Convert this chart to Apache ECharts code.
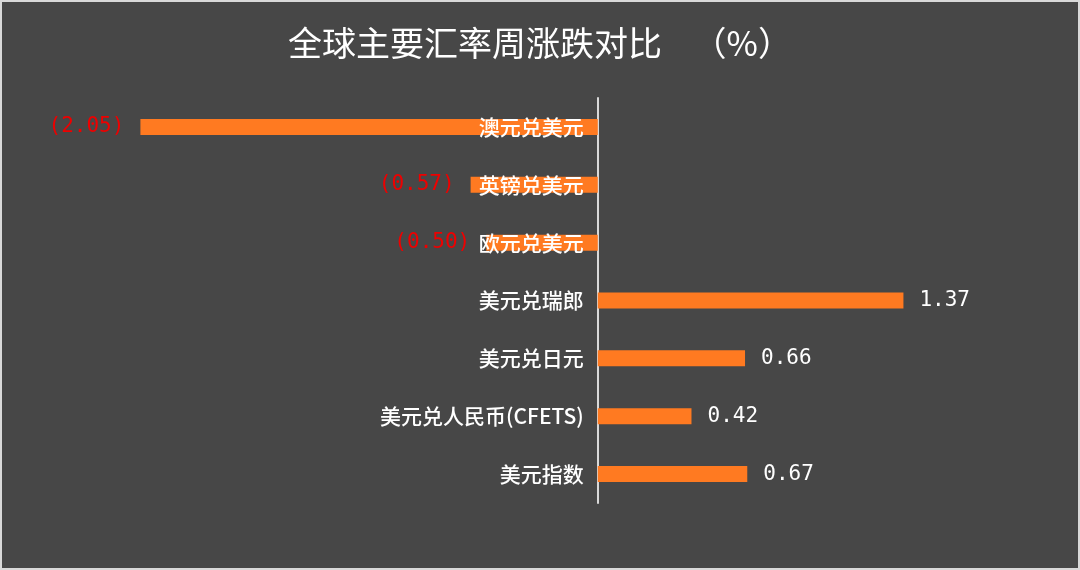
<!DOCTYPE html>
<html>
<head>
<meta charset="utf-8">
<script src="https://cdn.jsdelivr.net/npm/echarts@6/dist/echarts.min.js"></script>
<style>
  html, body { margin: 0; padding: 0; background: #d9d9d9; }
  #chart { position: absolute; left: 2px; top: 2px; width: 1076px; height: 566px; background: #474747; }
</style>
</head>
<body>
<div id="chart"></div>
<script>
const categories = ['澳元兑美元', '英镑兑美元', '欧元兑美元', '美元兑瑞郎', '美元兑日元', '美元兑人民币(CFETS)', '美元指数']
const changes = [-2.05, -0.57, -0.50, 1.37, 0.66, 0.42, 0.67]

const chart = echarts.init(document.getElementById('chart'))
const fontCn = '"Noto Sans CJK SC", "Noto Sans", sans-serif'
const fontNum = '"DejaVu Sans Mono", monospace'

chart.setOption({
    backgroundColor: '#474747',
    title: {
        text: '全球主要汇率周涨跌对比    （%）',
        left: 'center',
        top: 19,
        textStyle: { color: '#ffffff', fontSize: 34, fontWeight: 'normal', fontFamily: fontCn }
    },
    grid: { left: 38, right: 34, top: 96, bottom: 65, outerBoundsMode: 'none' },
    xAxis: {
        type: 'value',
        min: -2.5,
        max: 2.0,
        show: false
    },
    yAxis: {
        type: 'category',
        data: categories,
        inverse: true,
        axisLine: { onZero: true, lineStyle: { color: '#d9d9d9', width: 2 } },
        axisTick: { show: false },
        axisLabel: { show: false }
    },
    series: [{
        type: 'bar',
        data: changes.map(v => ({
            value: v,
            label: {
                position: v < 0 ? 'left' : 'right',
                color: v < 0 ? '#ee0000' : '#ffffff'
            }
        })),
        barWidth: 16,
        itemStyle: { color: '#ff7a21' },
        label: {
            show: true,
            distance: 16,
            fontSize: 21,
            fontFamily: fontNum,
            formatter: p => p.value < 0 ? '(' + Math.abs(p.value).toFixed(2) + ')' : p.value.toFixed(2)
        }
    }, {
        // category names drawn at the zero line
        type: 'bar',
        z: 5,
        barGap: '-100%',
        barWidth: 16,
        silent: true,
        itemStyle: { color: 'transparent' },
        data: categories.map(() => 0),
        label: {
            show: true,
            position: 'left',
            distance: 14,
            color: '#ffffff',
            fontSize: 21,
            fontWeight: 500,
            fontFamily: fontCn,
            formatter: p => p.name
        }
    }]
})
</script>
</body>
</html>
